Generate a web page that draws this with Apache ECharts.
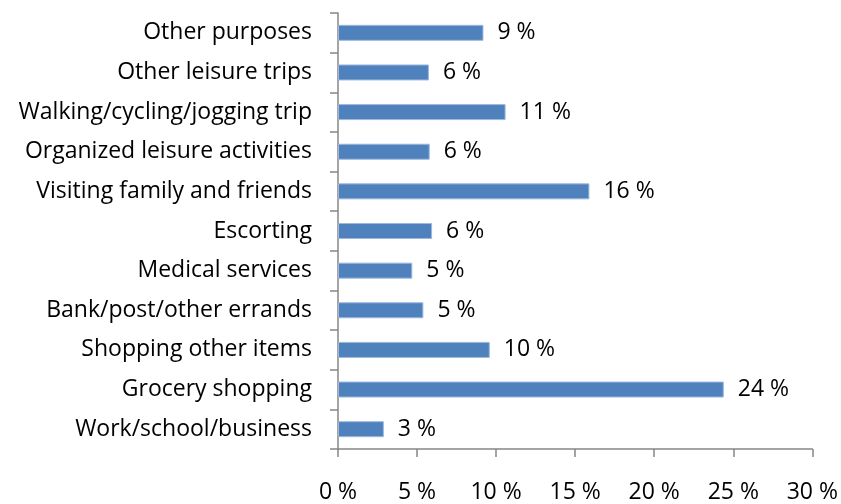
<!DOCTYPE html>
<html>
<head>
<meta charset="utf-8">
<script src="https://cdn.jsdelivr.net/npm/echarts@6/dist/echarts.min.js"></script>
<style>
html,body{margin:0;padding:0;background:#fff;}
#chart{width:841px;height:504px;}
</style>
</head>
<body>
<div id="chart"></div>
<script>
// 出行目的 (从下到上)
var categories = ['Work/school/business', 'Grocery shopping', 'Shopping other items',
    'Bank/post/other errands', 'Medical services', 'Escorting', 'Visiting family and friends',
    'Organized leisure activities', 'Walking/cycling/jogging trip', 'Other leisure trips', 'Other purposes'];
var shares = [2.9, 24.4, 9.6, 5.4, 4.7, 5.95, 15.9, 5.8, 10.6, 5.75, 9.2];
var tickValues = [0, 5, 10, 15, 20, 25, 30];

var fontName = 'Open Sans';
var fontSize = 23;
var axisColor = '#868686';

var barOption = {
    animation: false,
    grid: {
        left: 338,
        right: 28.5,
        top: 13,
        bottom: 55
    },
    xAxis: [
        {
            type: 'value',
            min: tickValues[0],
            max: tickValues[tickValues.length - 1],
            interval: 5,
            axisLine: { show: true, lineStyle: { color: axisColor, width: 1.5 } },
            axisTick: { show: true, length: 8, lineStyle: { color: axisColor, width: 1.5 } },
            splitLine: { show: false },
            axisLabel: {
                margin: 32,
                fontSize: fontSize,
                fontFamily: fontName,
                color: '#000',
                formatter: '{value} %'
            }
        }
    ],
    yAxis: [
        {
            type: 'category',
            data: categories,
            axisLine: { show: true, lineStyle: { color: axisColor, width: 1.5 } },
            axisTick: { show: true, length: 8, lineStyle: { color: axisColor, width: 1.5 } },
            axisLabel: {
                margin: 26,
                fontSize: fontSize,
                fontFamily: fontName,
                color: '#000'
            }
        }
    ],
    series: [
        {
            type: 'bar',
            data: shares,
            barWidth: 16,
            itemStyle: {
                color: '#4F81BD',
                borderColor: '#9DB9DE',
                borderWidth: 1
            },
            label: {
                show: true,
                position: 'right',
                distance: 14,
                fontSize: fontSize,
                fontFamily: fontName,
                color: '#000',
                formatter: function (p) {
                    return Math.round(p.value) + ' %';
                }
            }
        }
    ]
};

var domMain = document.getElementById('chart');
var chart = echarts.init(domMain);
chart.setOption(barOption, false);
</script>
</body>
</html>
